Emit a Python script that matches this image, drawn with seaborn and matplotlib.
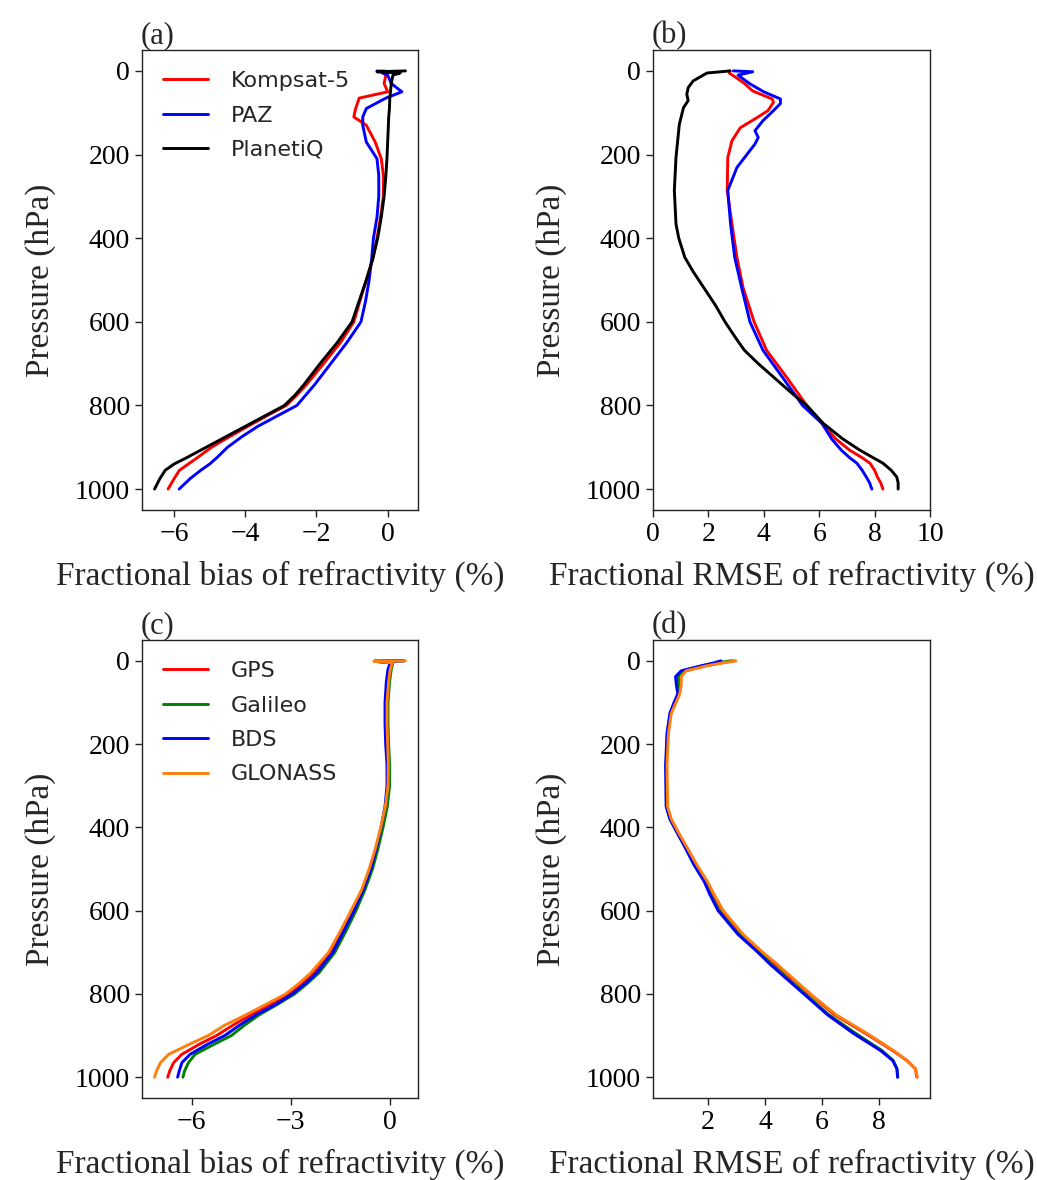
import numpy as np
import pandas as pd
import matplotlib
matplotlib.use("Agg")
import matplotlib.pyplot as plt
import seaborn as sns
from matplotlib.ticker import MultipleLocator

# ---------------- data ----------------
# (a) fractional bias, LEO missions
P_A = [0, 2, 5, 10, 30, 50, 65, 90, 110, 130, 170, 210, 250, 300, 350, 400,
       450, 500, 550, 600, 650, 700, 750, 775, 800, 825, 850, 875, 900, 925,
       940, 955, 975, 1000]
BIAS_KOMPSAT = [-0.15, 0.1, -0.1, -0.05, -0.1, 0.0, -0.8, -0.9, -0.95, -0.6, -0.35, -0.18,
                -0.12, -0.12, -0.2, -0.3, -0.42, -0.6, -0.78, -0.95, -1.33, -1.8, -2.28,
                -2.55, -2.85, -3.4, -3.93, -4.45, -4.95, -5.35, -5.6, -5.85, -6.0, -6.17]
BIAS_PAZ = [-0.3, 0.0, -0.15, 0.0, 0.1, 0.4, -0.05, -0.6, -0.7, -0.7, -0.6, -0.3,
            -0.25, -0.25, -0.3, -0.4, -0.45, -0.52, -0.62, -0.75, -1.15, -1.6, -2.05,
            -2.3, -2.55, -3.1, -3.65, -4.1, -4.5, -4.8, -5.0, -5.25, -5.55, -5.86]
BIAS_PLANETIQ = [0.5, -0.3, 0.35, 0.15, 0.1, 0.08, 0.06, 0.05, 0.03, 0.02, 0.0, -0.02,
                 -0.05, -0.1, -0.18, -0.28, -0.42, -0.6, -0.8, -1.0, -1.42, -1.9,
                 -2.35, -2.6, -2.9, -3.45, -4.0, -4.55, -5.1, -5.65, -6.0, -6.25,
                 -6.4, -6.55]

# (b) fractional RMSE, LEO missions
P_B_KOMPSAT = [0, 5, 16, 30, 48, 67, 75, 95, 112, 136, 167, 207, 286, 366, 446, 518,
               600, 668, 735, 800, 843, 880, 907, 925, 938, 955, 971, 985, 1000]
RMSE_KOMPSAT = [2.78, 2.75, 3.0, 3.3, 3.6, 4.3, 4.35, 4.15, 3.75, 3.15, 2.85, 2.7, 2.68,
                2.85, 3.03, 3.25, 3.65, 4.1, 4.85, 5.55, 6.1, 6.6, 7.1, 7.55, 7.83,
                8.0, 8.1, 8.22, 8.3]
P_B_PAZ = [0, 2, 10, 31, 50, 67, 78, 95, 119, 143, 159, 175, 199, 231, 286, 366, 446,
           518, 600, 668, 735, 800, 843, 880, 907, 925, 938, 955, 971, 985, 1000]
RMSE_PAZ = [2.9, 3.6, 3.07, 3.5, 4.0, 4.6, 4.6, 4.35, 3.97, 3.68, 3.8, 3.68, 3.4, 3.03,
            2.7, 2.8, 2.95, 3.2, 3.5, 3.97, 4.7, 5.4, 6.1, 6.45, 6.8, 7.1, 7.36, 7.55,
            7.7, 7.82, 7.9]
P_B_PLANETIQ = [0, 5, 24, 40, 56, 71, 88, 128, 207, 286, 366, 400, 446, 480, 525, 560,
                600, 640, 668, 700, 735, 770, 800, 843, 880, 907, 925, 938, 955, 971,
                985, 1000]
RMSE_PLANETIQ = [2.78, 1.95, 1.45, 1.27, 1.22, 1.27, 1.1, 0.95, 0.83, 0.77, 0.83, 0.93,
                 1.15, 1.45, 1.9, 2.25, 2.6, 3.0, 3.3, 3.8, 4.4, 5.0, 5.55, 6.15, 6.85,
                 7.47, 7.95, 8.3, 8.6, 8.8, 8.85, 8.85]

# (c) fractional bias, GNSS systems
P_C = [0, 1, 5, 20, 50, 100, 150, 200, 250, 300, 350, 400, 450, 500, 550, 600, 650,
       700, 750, 775, 800, 825, 850, 875, 900, 920, 945, 965, 985, 1000]
BIAS_GPS = [0.45, -0.45, 0.05, 0.0, -0.05, -0.1, -0.1, -0.08, -0.05, -0.05, -0.12, -0.25,
            -0.4, -0.58, -0.8, -1.12, -1.45, -1.78, -2.3, -2.65, -3.05, -3.6, -4.2,
            -4.75, -5.25, -5.75, -6.3, -6.55, -6.67, -6.73]
BIAS_GALILEO = [0.45, -0.45, 0.1, 0.05, 0.0, -0.05, -0.05, -0.03, 0.0, 0.0, -0.07, -0.2,
                -0.35, -0.52, -0.75, -1.02, -1.33, -1.66, -2.15, -2.5, -2.88, -3.4,
                -3.95, -4.4, -4.8, -5.3, -5.9, -6.1, -6.22, -6.27]
BIAS_BDS = [0.4, -0.45, 0.02, -0.05, -0.1, -0.14, -0.14, -0.12, -0.08, -0.08, -0.14,
            -0.26, -0.4, -0.57, -0.8, -1.08, -1.4, -1.72, -2.22, -2.55, -2.95, -3.45,
            -4.05, -4.55, -5.0, -5.5, -6.05, -6.3, -6.38, -6.43]
BIAS_GLONASS = [0.48, -0.48, 0.08, 0.02, -0.03, -0.08, -0.08, -0.06, -0.04, -0.05, -0.13,
                -0.27, -0.43, -0.62, -0.85, -1.17, -1.5, -1.85, -2.4, -2.75, -3.15,
                -3.75, -4.35, -5.0, -5.5, -6.05, -6.7, -6.95, -7.07, -7.13]

# (d) fractional RMSE, GNSS systems
P_D = [0, 5, 12, 24, 38, 58, 79, 100, 126, 174, 250, 350, 380, 412, 450, 490, 530, 560,
       600, 657, 700, 730, 800, 850, 895, 936, 960, 980, 1000]
RMSE_GPS = [2.9, 2.45, 1.9, 1.2, 1.02, 1.02, 0.98, 0.85, 0.68, 0.58, 0.52, 0.55, 0.68,
            0.93, 1.25, 1.58, 1.95, 2.17, 2.5, 3.2, 3.88, 4.4, 5.58, 6.45, 7.55, 8.5,
            9.0, 9.3, 9.35]
RMSE_GALILEO = [2.8, 2.3, 1.8, 1.1, 0.95, 0.95, 0.95, 0.82, 0.67, 0.56, 0.52, 0.53,
                0.66, 0.91, 1.22, 1.52, 1.88, 2.08, 2.38, 3.08, 3.78, 4.25, 5.42, 6.25,
                7.2, 8.12, 8.52, 8.65, 8.68]
RMSE_BDS = [2.45, 2.2, 1.75, 1.05, 0.85, 0.88, 0.93, 0.8, 0.65, 0.55, 0.5, 0.52, 0.65,
            0.9, 1.2, 1.5, 1.86, 2.05, 2.35, 3.05, 3.75, 4.2, 5.37, 6.2, 7.12, 8.07,
            8.5, 8.65, 8.67]
RMSE_GLONASS = [2.98, 2.5, 1.95, 1.22, 1.05, 1.05, 1.0, 0.87, 0.7, 0.6, 0.55, 0.57, 0.7,
                0.95, 1.27, 1.6, 1.97, 2.2, 2.53, 3.23, 3.92, 4.45, 5.6, 6.5, 7.6, 8.53,
                9.0, 9.3, 9.37]

LEO_NAMES = ["Kompsat-5", "PAZ", "PlanetiQ"]
LEO_COLORS = ["#ff0000", "#0000ff", "#000000"]
GNSS_NAMES = ["GPS", "Galileo", "BDS", "GLONASS"]
GNSS_COLORS = ["#ff0000", "#008000", "#0000ff", "#ff7f0e"]

XLABEL_BIAS = "Fractional bias of refractivity (%)"
XLABEL_RMSE = "Fractional RMSE of refractivity (%)"
YLABEL = "Pressure (hPa)"


def long_frame(names, pressures, values):
    rows = []
    for n, p, v in zip(names, pressures, values):
        rows.append(pd.DataFrame({"series": n, "pressure": p, "value": v}))
    return pd.concat(rows, ignore_index=True)


df_a = long_frame(LEO_NAMES, [P_A, P_A, P_A], [BIAS_KOMPSAT, BIAS_PAZ, BIAS_PLANETIQ])
df_b = long_frame(LEO_NAMES, [P_B_KOMPSAT, P_B_PAZ, P_B_PLANETIQ],
                  [RMSE_KOMPSAT, RMSE_PAZ, RMSE_PLANETIQ])
df_c = long_frame(GNSS_NAMES, [P_C] * 4, [BIAS_GPS, BIAS_GALILEO, BIAS_BDS, BIAS_GLONASS])
df_d = long_frame(GNSS_NAMES, [P_D] * 4, [RMSE_GPS, RMSE_GALILEO, RMSE_BDS, RMSE_GLONASS])

# ---------------- style ----------------
sns.set_style("ticks")
plt.rcParams["font.family"] = ["Liberation Serif", "DejaVu Serif"]
plt.rcParams["axes.edgecolor"] = "#222222"
plt.rcParams["axes.linewidth"] = 1.0
plt.rcParams["xtick.color"] = "#222222"
plt.rcParams["ytick.color"] = "#222222"
plt.rcParams["xtick.labelcolor"] = "black"
plt.rcParams["ytick.labelcolor"] = "black"

fig = plt.figure(figsize=(10.37, 11.8), dpi=100)
W, H = 1037.0, 1180.0


def axes_px(left, top, right, bottom):
    return fig.add_axes([left / W, 1 - bottom / H, (right - left) / W, (bottom - top) / H])


ax_a = axes_px(142, 50, 418, 510)
ax_b = axes_px(653, 50, 930, 510)
ax_c = axes_px(142, 640, 418, 1098)
ax_d = axes_px(653, 640, 930, 1098)

panels = [
    (ax_a, df_a, LEO_NAMES, LEO_COLORS, XLABEL_BIAS, "(a)", True),
    (ax_b, df_b, LEO_NAMES, LEO_COLORS, XLABEL_RMSE, "(b)", False),
    (ax_c, df_c, GNSS_NAMES, GNSS_COLORS, XLABEL_BIAS, "(c)", True),
    (ax_d, df_d, GNSS_NAMES, GNSS_COLORS, XLABEL_RMSE, "(d)", False),
]

for ax, df, names, colors, xlabel, tag, show_legend in panels:
    sns.lineplot(data=df, x="value", y="pressure", hue="series", hue_order=names,
                 palette=colors, orient="y", estimator=None, linewidth=2.1,
                 ax=ax, legend=show_legend)
    ax.set_ylim(1050, -50)
    ax.yaxis.set_major_locator(MultipleLocator(200))
    ax.set_xlabel(xlabel, fontsize=24, labelpad=10)
    ax.set_ylabel(YLABEL, fontsize=24, labelpad=14)
    ax.tick_params(axis="both", labelsize=20, length=5, width=1, direction="out")
    ax.set_title(tag, loc="left", fontsize=22, pad=3, x=-0.005)
    for s in ax.spines.values():
        s.set_visible(True)
    if show_legend:
        leg = ax.legend(loc="upper left", frameon=False,
                        prop={"family": "DejaVu Sans", "size": 16},
                        handlelength=2.0, handletextpad=1.05,
                        labelspacing=0.65, borderaxespad=0.55)
        for line in leg.get_lines():
            line.set_linewidth(2.1)

ax_a.xaxis.set_major_locator(MultipleLocator(2))
ax_b.set_xlim(0, 10)
ax_b.xaxis.set_major_locator(MultipleLocator(2))
ax_c.xaxis.set_major_locator(MultipleLocator(3))
ax_d.xaxis.set_major_locator(MultipleLocator(2))

fig.savefig("out.png", dpi=100)
